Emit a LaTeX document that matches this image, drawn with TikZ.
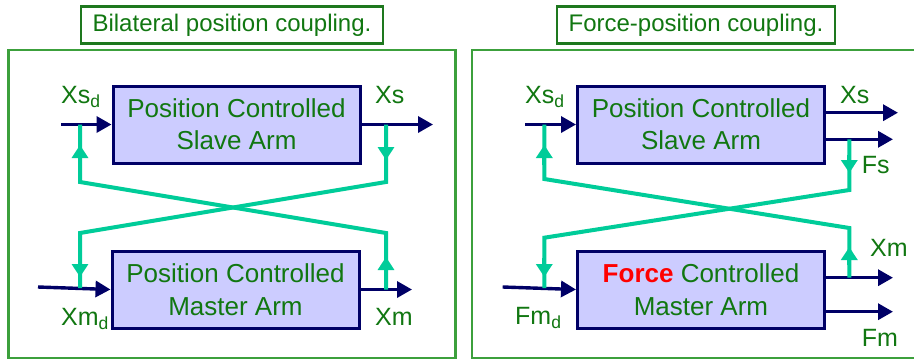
\documentclass[tikz,border=0pt]{standalone}
\usepackage{fontspec}
\setmainfont{Liberation Sans}
\usetikzlibrary{arrows.meta}
\definecolor{txtgreen}{RGB}{17,119,17}
\definecolor{titlegreen}{RGB}{30,120,30}
\definecolor{panelgreen}{RGB}{60,160,60}
\definecolor{boxfill}{RGB}{204,204,255}
\definecolor{navy}{RGB}{0,0,102}
\definecolor{teal}{RGB}{0,204,153}
\definecolor{fred}{RGB}{255,0,0}
\tikzset{
  armbox/.style={draw=navy, line width=3pt, fill=boxfill, minimum width=247pt, minimum height=77pt,
     inner sep=0pt, text=txtgreen, align=center, font=\fontsize{26}{32.4}\selectfont},
  titlebox/.style={draw=titlegreen, line width=2.6pt, fill=white, text=txtgreen,
     minimum height=37pt, inner xsep=8pt, font=\fontsize{24}{28}\selectfont},
  panel/.style={draw=panelgreen, line width=2.4pt},
  sig/.style={draw=navy, line width=3.4pt, -{Triangle[length=15pt,width=16pt]}},
  fb/.style={draw=teal, line width=4pt},
  fbarrow/.style={draw=teal, line width=4pt, -{Triangle[length=13pt,width=16pt]}},
  lbl/.style={text=txtgreen, inner sep=0pt, anchor=base west, font=\fontsize{25}{30}\selectfont},
}
\begin{document}
\begin{tikzpicture}[x=1pt,y=-1pt]
\useasboundingbox (0,0) rectangle (914,360);
\fill[white] (0,0) rectangle (914,360);
% panels
\draw[panel] (8.5,50) rectangle (455.5,358);
\draw[panel] (472,50) rectangle (925,358);
% titles
\node[titlebox, minimum width=302pt] (t1) at (232,25) {Bilateral position coupling.};
\node[titlebox, minimum width=278pt] (t2) at (696,25) {Force-position coupling.};

% ---------------- left panel ----------------
\node[armbox] (SL) at (236.5,124.5) {Position Controlled\\Slave Arm};
\node[armbox] (ML) at (235.5,289.5) {Position Controlled\\Master Arm};

\coordinate (inSL) at (61,124.5);
\coordinate (outSL) at (433,124.5);
\coordinate (inML) at (38,287);
\coordinate (outML) at (412,289.5);
\draw[sig] (inSL) -- (SL.west);
\draw[sig] (SL.east) -- (outSL);
\draw[sig] (inML) -- (ML.west);
\draw[sig] (ML.east) -- (outML);

% feedback lines
\coordinate (aL1) at (386,289.5);
\coordinate (aL2) at (386,233);
\coordinate (aL3) at (80,182);
\coordinate (aL4) at (80,124.5);
\draw[fb] (aL1) -- (aL2) -- (aL3) -- (aL4);
\coordinate (bL1) at (386,124.5);
\coordinate (bL2) at (386,182);
\coordinate (bL3) at (80,233);
\coordinate (bL4) at (80,288);
\draw[fb] (bL1) -- (bL2) -- (bL3) -- (bL4);
\coordinate (arL1s) at (386,275);
\coordinate (arL1e) at (386,257);
\coordinate (arL2s) at (80,165);
\coordinate (arL2e) at (80,145);
\coordinate (arL3s) at (386,140);
\coordinate (arL3e) at (386,160);
\coordinate (arL4s) at (80,255);
\coordinate (arL4e) at (80,277);
\draw[fbarrow] (arL1s) -- (arL1e);
\draw[fbarrow] (arL2s) -- (arL2e);
\draw[fbarrow] (arL3s) -- (arL3e);
\draw[fbarrow] (arL4s) -- (arL4e);

\node[lbl] (lXsd) at (61,103) {Xs\textsubscript{d}};
\node[lbl] (lXs) at (375,103) {Xs};
\node[lbl] (lXmd) at (61,325) {Xm\textsubscript{d}};
\node[lbl] (lXm) at (375,325) {Xm};

% ---------------- right panel ----------------
\node[armbox] (SR) at (701,124.5) {Position Controlled\\Slave Arm};
\node[armbox] (MR) at (701,289.5) {\textcolor{fred}{\textbf{Force}} Controlled\\Master Arm};

\coordinate (inSR) at (525,124.5);
\coordinate (xsR) at (898,112.7);
\coordinate (fsR) at (893,139.3);
\coordinate (inMR) at (502.7,287);
\coordinate (xmR) at (893,277.7);
\coordinate (fmR) at (893,311.7);
\draw[sig] (inSR) -- (SR.west);
\draw[sig] (SR.east |- xsR) -- (xsR);
\draw[sig] (SR.east |- fsR) -- (fsR);
\draw[sig] (inMR) -- (MR.west);
\draw[sig] (MR.east |- xmR) -- (xmR);
\draw[sig] (MR.east |- fmR) -- (fmR);

\coordinate (aR1) at (849.3,277.7);
\coordinate (aR2) at (849.3,228);
\coordinate (aR3) at (544.3,179);
\coordinate (aR4) at (544.3,124.5);
\draw[fb] (aR1) -- (aR2) -- (aR3) -- (aR4);
\coordinate (bR1) at (849.3,139.3);
\coordinate (bR2) at (849.3,190);
\coordinate (bR3) at (544.3,237.7);
\coordinate (bR4) at (544.3,288);
\draw[fb] (bR1) -- (bR2) -- (bR3) -- (bR4);
\coordinate (arR1s) at (849.3,265);
\coordinate (arR1e) at (849.3,247);
\coordinate (arR2s) at (544.3,165);
\coordinate (arR2e) at (544.3,145);
\coordinate (arR3s) at (849.3,155);
\coordinate (arR3e) at (849.3,173);
\coordinate (arR4s) at (544.3,258);
\coordinate (arR4e) at (544.3,277);
\draw[fbarrow] (arR1s) -- (arR1e);
\draw[fbarrow] (arR2s) -- (arR2e);
\draw[fbarrow] (arR3s) -- (arR3e);
\draw[fbarrow] (arR4s) -- (arR4e);

\node[lbl] (rXsd) at (525,103) {Xs\textsubscript{d}};
\node[lbl] (rXs) at (840,103) {Xs};
\node[lbl] (rFs) at (861.7,173) {Fs};
\node[lbl] (rXm) at (870,256) {Xm};
\node[lbl] (rFmd) at (515,324) {Fm\textsubscript{d}};
\node[lbl] (rFm) at (861.7,346) {Fm};
\end{tikzpicture}
\end{document}
